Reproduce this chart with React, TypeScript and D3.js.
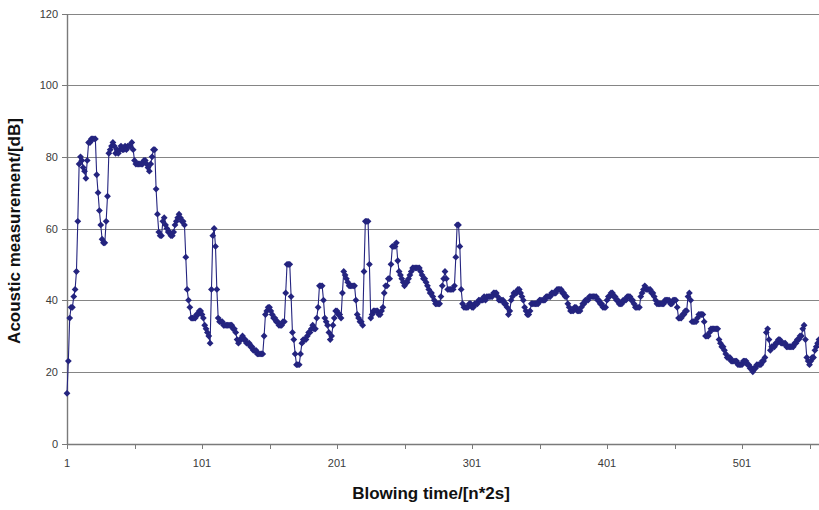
import React from "react";
import * as d3 from "d3";

const values: number[] = [
  14, 23, 35, 38, 38, 41, 43, 48, 62, 78,
  80, 79, 77, 76, 74, 79, 84, 84, 85, 85,
  85, 85, 75, 70, 65, 61, 57, 56, 56, 62,
  69, 81, 82, 83, 84, 83, 81, 82, 81, 82,
  83, 82, 82, 83, 82, 83, 83, 83, 84, 82,
  79, 78, 78, 78, 78, 78, 78, 79, 79, 78,
  77, 76, 78, 80, 82, 82, 71, 64, 59, 58,
  58, 62, 63, 61, 60, 59, 59, 58, 58, 59,
  61, 62, 63, 64, 63, 62, 62, 61, 52, 43,
  40, 38, 35, 35, 35, 35, 36, 36, 37, 37,
  36, 35, 33, 32, 31, 30, 28, 43, 58, 60,
  55, 43, 35, 34, 34, 34, 33, 33, 33, 33,
  33, 33, 33, 32, 32, 31, 29, 28, 29, 29,
  30, 29, 29, 28, 28, 28, 27, 27, 26, 26,
  26, 25, 25, 25, 25, 25, 30, 36, 37, 38,
  38, 37, 36, 35, 35, 34, 34, 33, 33, 33,
  34, 34, 42, 50, 50, 50, 41, 31, 29, 25,
  22, 22, 22, 25, 28, 29, 29, 29, 30, 31,
  31, 32, 33, 32, 32, 35, 38, 44, 44, 44,
  40, 35, 34, 33, 31, 29, 30, 33, 35, 37,
  37, 36, 36, 35, 42, 48, 47, 46, 45, 44,
  44, 44, 44, 44, 40, 36, 35, 34, 34, 33,
  48, 62, 62, 62, 50, 35, 36, 37, 37, 37,
  37, 36, 36, 37, 38, 42, 44, 44, 46, 46,
  50, 55, 55, 55, 56, 51, 48, 47, 46, 45,
  44, 45, 45, 46, 47, 48, 49, 49, 49, 49,
  49, 49, 48, 47, 46, 46, 45, 44, 43, 42,
  42, 41, 40, 39, 39, 39, 39, 41, 44, 46,
  48, 46, 43, 43, 43, 43, 43, 44, 52, 61,
  61, 55, 43, 39, 38, 38, 38, 38, 39, 39,
  38, 38, 39, 39, 39, 40, 40, 40, 40, 41,
  40, 41, 41, 41, 41, 41, 42, 42, 42, 41,
  40, 40, 40, 40, 39, 39, 38, 36, 37, 40,
  41, 42, 42, 42, 43, 43, 42, 41, 40, 38,
  37, 36, 36, 37, 39, 39, 39, 39, 39, 39,
  40, 40, 40, 40, 40, 41, 41, 41, 41, 42,
  42, 42, 42, 43, 43, 43, 43, 42, 42, 41,
  41, 39, 38, 37, 37, 37, 38, 38, 37, 37,
  37, 38, 39, 39, 40, 40, 40, 41, 41, 41,
  41, 41, 41, 40, 40, 39, 39, 38, 38, 38,
  40, 41, 41, 42, 42, 41, 41, 40, 40, 39,
  39, 39, 40, 40, 40, 41, 41, 41, 40, 40,
  39, 38, 38, 38, 38, 41, 42, 43, 44, 43,
  43, 43, 43, 42, 42, 41, 40, 39, 39, 39,
  39, 39, 39, 40, 40, 40, 40, 39, 39, 40,
  40, 40, 38, 35, 35, 35, 36, 36, 37, 37,
  41, 42, 40, 34, 34, 34, 34, 35, 36, 36,
  36, 36, 34, 30, 30, 30, 31, 32, 32, 32,
  32, 32, 32, 29, 28, 27, 27, 26, 25, 24,
  24, 24, 23, 23, 23, 23, 23, 22, 22, 22,
  22, 23, 23, 23, 22, 22, 21, 21, 20, 21,
  21, 22, 22, 22, 22, 23, 23, 24, 31, 32,
  29, 26, 27, 27, 27, 28, 28, 29, 29, 28,
  28, 28, 28, 27, 27, 27, 27, 27, 27, 28,
  28, 29, 29, 30, 30, 32, 33, 29, 24, 23,
  22, 23, 24, 24, 26, 27, 28, 29,
];

const categories: number[] = values.map((_, i) => i + 1);
const yTicks: number[] = [0, 20, 40, 60, 80, 100, 120];
const xTickMarks: number[] = [1, 51, 101, 151, 201, 251, 301, 351, 401, 451, 501, 551];
const xTickLabels: number[] = [1, 101, 201, 301, 401, 501];

const W = 819;
const H = 510;
const LEFT = 67;
const TOP = 13.5;
const BOTTOM = 443.5;
const STEP = 1.35;

export default function App() {
  const x = d3
    .scaleLinear()
    .domain([1, categories[categories.length - 1]])
    .range([LEFT, LEFT + (categories.length - 1) * STEP]);
  const y = d3.scaleLinear().domain([0, 120]).range([BOTTOM, TOP]);

  const line = d3
    .line<number>()
    .x((_, i) => x(categories[i]))
    .y((d) => y(d));

  const diamond = "M0,-3.4L3.4,0L0,3.4L-3.4,0Z";
  const navy = "#24247f";
  const font = "Arial, 'Liberation Sans', sans-serif";

  return (
    <svg
      width={W}
      height={H}
      style={{ position: "absolute", left: 0, top: 0, background: "#fff" }}
    >
      <rect x={0} y={0} width={W} height={H} fill="#fff" />
      {yTicks
        .filter((t) => t > 0)
        .map((t) => (
          <line
            key={"g" + t}
            x1={LEFT}
            x2={W}
            y1={Math.round(y(t)) + 0.5}
            y2={Math.round(y(t)) + 0.5}
            stroke="#858585"
            strokeWidth={1.2}
          />
        ))}
      <line x1={LEFT + 0.5} x2={LEFT + 0.5} y1={Math.round(TOP)} y2={Math.round(BOTTOM) + 0.5} stroke="#7a7a7a" strokeWidth={1.4} />
      {yTicks.map((t) => (
        <g key={"yt" + t}>
          <line
            x1={LEFT - 5}
            x2={LEFT}
            y1={Math.round(y(t)) + 0.5}
            y2={Math.round(y(t)) + 0.5}
            stroke="#7a7a7a"
          />
          <text
            x={LEFT - 9}
            y={y(t) + 4}
            textAnchor="end"
            fontFamily={font}
            fontSize={11}
            fill="#3a3a3a"
          >
            {t}
          </text>
        </g>
      ))}
      <line x1={LEFT} x2={W} y1={Math.round(BOTTOM) + 0.5} y2={Math.round(BOTTOM) + 0.5} stroke="#7a7a7a" strokeWidth={1.4} />
      {xTickMarks.map((t) => (
        <line
          key={"xt" + t}
          x1={Math.round(x(t)) + 0.5}
          x2={Math.round(x(t)) + 0.5}
          y1={Math.round(BOTTOM)}
          y2={Math.round(BOTTOM) + 5}
          stroke="#7a7a7a"
        />
      ))}
      {xTickLabels.map((t) => (
        <text
          key={"xl" + t}
          x={x(t)}
          y={BOTTOM + 23}
          textAnchor="middle"
          fontFamily={font}
          fontSize={11}
          fill="#3a3a3a"
        >
          {t}
        </text>
      ))}
      <path d={line(values) || ""} fill="none" stroke={navy} strokeWidth={1.1} />
      {values.map((v, i) => (
        <path
          key={"m" + i}
          d={diamond}
          transform={`translate(${x(categories[i])},${y(v)})`}
          fill={navy}
          stroke="none"
        />
      ))}
      <text
        x={431}
        y={499}
        textAnchor="middle"
        fontFamily={font}
        fontWeight="bold"
        fontSize={17}
        fill="#111"
      >
        Blowing time/[n*2s]
      </text>
      <text
        transform={`translate(20,231) rotate(-90)`}
        textAnchor="middle"
        fontFamily={font}
        fontWeight="bold"
        fontSize={17}
        fill="#111"
      >
        Acoustic measurement/[dB]
      </text>
    </svg>
  );
}
